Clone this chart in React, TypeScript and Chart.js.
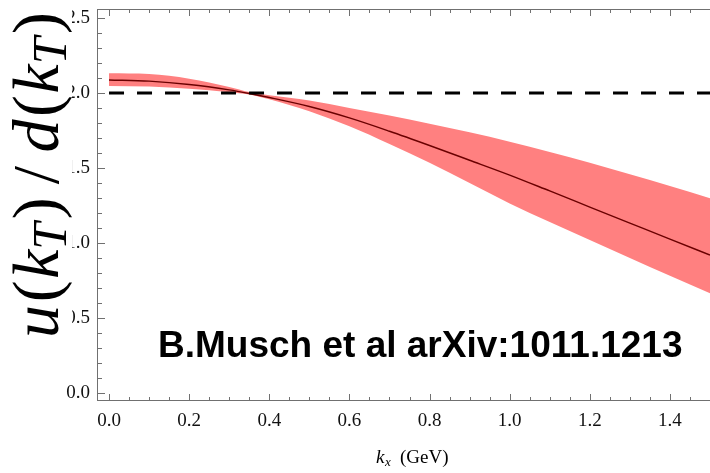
import React, { useEffect, useRef } from 'react';
import { Chart, registerables } from 'chart.js';

Chart.register(...registerables);

// Transverse momentum grid (GeV) and the u/d ratio with its error band
const kValues = [0, 0.1, 0.2, 0.3, 0.35, 0.4, 0.5, 0.6, 0.7, 0.8, 0.9, 1.0, 1.1, 1.2, 1.3, 1.4, 1.5];
const ratioCentral = [2.087, 2.079, 2.057, 2.021, 1.997, 1.97, 1.91, 1.834, 1.745, 1.65, 1.552, 1.453, 1.347, 1.24, 1.133, 1.026, 0.92];
const ratioUpper = [2.131, 2.126, 2.095, 2.04, 2.006, 1.985, 1.95, 1.9, 1.85, 1.795, 1.738, 1.675, 1.607, 1.535, 1.459, 1.38, 1.298];
const ratioLower = [2.047, 2.043, 2.028, 2.005, 1.99, 1.958, 1.878, 1.778, 1.66, 1.535, 1.4, 1.264, 1.14, 1.02, 0.9, 0.782, 0.665];

// Reference level u/d = 2
const refK = [0, 1.5];
const refRatio = [2, 2];

const xTickValues = [0, 0.2, 0.4, 0.6, 0.8, 1.0, 1.2, 1.4];
const yTickValues = [0, 0.5, 1.0, 1.5, 2.0, 2.5];

const annotationText = 'B.Musch et al arXiv:1011.1213';

const SERIF = '"Liberation Serif", "Times New Roman", serif';

const toPoints = (xs: number[], ys: number[]) => xs.map((x, i) => ({ x, y: ys[i] }));

// Pieces of the rotated y-axis title u(k_T)/d(k_T)
const yTitleParts = [
  { text: 'u', italic: true, sub: false, gap: 0 },
  { text: '(', italic: false, sub: false, gap: 0.04 },
  { text: 'k', italic: true, sub: false, gap: 0.02 },
  { text: 'T', italic: true, sub: true, gap: 0 },
  { text: ')', italic: false, sub: false, gap: 0.05 },
  { text: '/', italic: false, sub: false, gap: 0.2 },
  { text: 'd', italic: true, sub: false, gap: 0.2 },
  { text: '(', italic: false, sub: false, gap: 0.04 },
  { text: 'k', italic: true, sub: false, gap: 0.02 },
  { text: 'T', italic: true, sub: true, gap: 0 },
  { text: ')', italic: false, sub: false, gap: 0.05 },
];

const decorPlugin = {
  id: 'frameAndLabels',
  afterDraw(chart: any) {
    const { ctx, chartArea: a, scales } = chart;
    const xs = scales.x;
    const ys = scales.y;
    ctx.save();

    // Frame
    ctx.strokeStyle = '#707070';
    ctx.lineWidth = 1;
    ctx.strokeRect(a.left + 0.5, a.top + 0.5, a.right - a.left, a.bottom - a.top - 1);

    // Inward ticks on bottom and top
    ctx.beginPath();
    for (let i = 0; i <= 30; i++) {
      const v = i * 0.05;
      const px = Math.round(xs.getPixelForValue(v)) + 0.5;
      if (px > a.right) continue;
      const len = i % 4 === 0 ? 7 : 4;
      ctx.moveTo(px, a.bottom);
      ctx.lineTo(px, a.bottom - len);
      ctx.moveTo(px, a.top);
      ctx.lineTo(px, a.top + len);
    }
    // Inward ticks on the left
    for (let i = 0; i <= 25; i++) {
      const v = i * 0.1;
      const py = Math.round(ys.getPixelForValue(v)) + 0.5;
      const len = i % 5 === 0 ? 8 : 5;
      ctx.moveTo(a.left, py);
      ctx.lineTo(a.left + len, py);
    }
    ctx.stroke();

    // Annotation
    ctx.fillStyle = '#000';
    ctx.font = 'bold 37px "Liberation Sans", Arial, sans-serif';
    ctx.textBaseline = 'alphabetic';
    ctx.textAlign = 'left';
    ctx.fillText(annotationText, 158, 357);

    // x-axis title: k_x (GeV)
    ctx.font = `italic 19px ${SERIF}`;
    ctx.fillText('k', 376, 463);
    const kw = ctx.measureText('k').width;
    ctx.font = `italic 13px ${SERIF}`;
    ctx.fillText('x', 376 + kw + 0.5, 466);
    ctx.font = `19px ${SERIF}`;
    ctx.fillText('(GeV)', 400, 463);

    // y-axis title, drawn over a white patch like a placed graphic
    ctx.fillStyle = '#fff';
    ctx.fillRect(0, 0, 72, 342);
    ctx.fillStyle = '#000';
    const size = 66;
    ctx.translate(58, 338);
    ctx.rotate(-Math.PI / 2);
    let pos = 0;
    for (const p of yTitleParts) {
      pos += p.gap * size;
      const fs = p.sub ? size * 0.74 : size;
      ctx.font = `${p.italic ? 'italic ' : ''}${fs}px ${SERIF}`;
      ctx.fillText(p.text, pos, p.sub ? size * 0.12 : 0);
      pos += ctx.measureText(p.text).width;
    }
    ctx.restore();
  },
};

// Keep the plot frame exactly where the axes are sized to put it
const noScalePadding = (s: any) => {
  s.paddingTop = 0;
  s.paddingBottom = 0;
  s.paddingLeft = 0;
  s.paddingRight = 0;
};

export default function App() {
  const canvasRef = useRef<HTMLCanvasElement | null>(null);

  useEffect(() => {
    document.body.style.margin = '0';
    const canvas = canvasRef.current;
    if (!canvas) return;

    const chart = new Chart(canvas, {
      type: 'line',
      data: {
        datasets: [
          {
            label: 'lower',
            data: toPoints(kValues, ratioLower),
            borderWidth: 0,
            pointRadius: 0,
            fill: false,
            cubicInterpolationMode: 'monotone',
            order: 4,
          },
          {
            label: 'upper',
            data: toPoints(kValues, ratioUpper),
            borderWidth: 0,
            pointRadius: 0,
            backgroundColor: '#ff8080',
            fill: '-1',
            cubicInterpolationMode: 'monotone',
            order: 3,
          },
          {
            label: 'central',
            data: toPoints(kValues, ratioCentral),
            borderColor: '#6b0000',
            borderWidth: 1.4,
            pointRadius: 0,
            fill: false,
            cubicInterpolationMode: 'monotone',
            order: 2,
          },
          {
            label: 'reference',
            data: toPoints(refK, refRatio),
            borderColor: '#000',
            borderWidth: 2.8,
            borderDash: [15, 13],
            borderCapStyle: 'butt',
            pointRadius: 0,
            fill: false,
            order: 1,
          },
        ],
      },
      options: {
        animation: false,
        responsive: true,
        maintainAspectRatio: false,
        layout: { padding: { top: 9, right: 0, left: 0, bottom: 0 }, autoPadding: false },
        plugins: { legend: { display: false }, tooltip: { enabled: false } },
        events: [],
        scales: {
          x: {
            type: 'linear',
            min: -0.03,
            max: 1.5,
            afterBuildTicks: (s: any) => {
              s.ticks = xTickValues.map((v) => ({ value: v }));
            },
            afterFit: (s: any) => {
              s.height = 72;
              noScalePadding(s);
            },
            ticks: {
              callback: (v: any) => Number(v).toFixed(1),
              font: { family: SERIF, size: 19 },
              color: '#111',
              padding: 9,
              maxRotation: 0,
              autoSkip: false,
            },
            grid: { display: false, drawTicks: false },
            border: { display: false },
          },
          y: {
            type: 'linear',
            min: -0.053,
            max: 2.56,
            afterBuildTicks: (s: any) => {
              s.ticks = yTickValues.map((v) => ({ value: v }));
            },
            afterFit: (s: any) => {
              s.width = 97;
              noScalePadding(s);
            },
            ticks: {
              callback: (v: any) => Number(v).toFixed(1),
              font: { family: SERIF, size: 19 },
              color: '#111',
              padding: 7,
              autoSkip: false,
            },
            grid: { display: false, drawTicks: false },
            border: { display: false },
          },
        },
      } as any,
      plugins: [decorPlugin],
    });

    return () => chart.destroy();
  }, []);

  return (
    <div style={{ position: 'relative', width: 710, height: 473 }}>
      <canvas ref={canvasRef} />
    </div>
  );
}
